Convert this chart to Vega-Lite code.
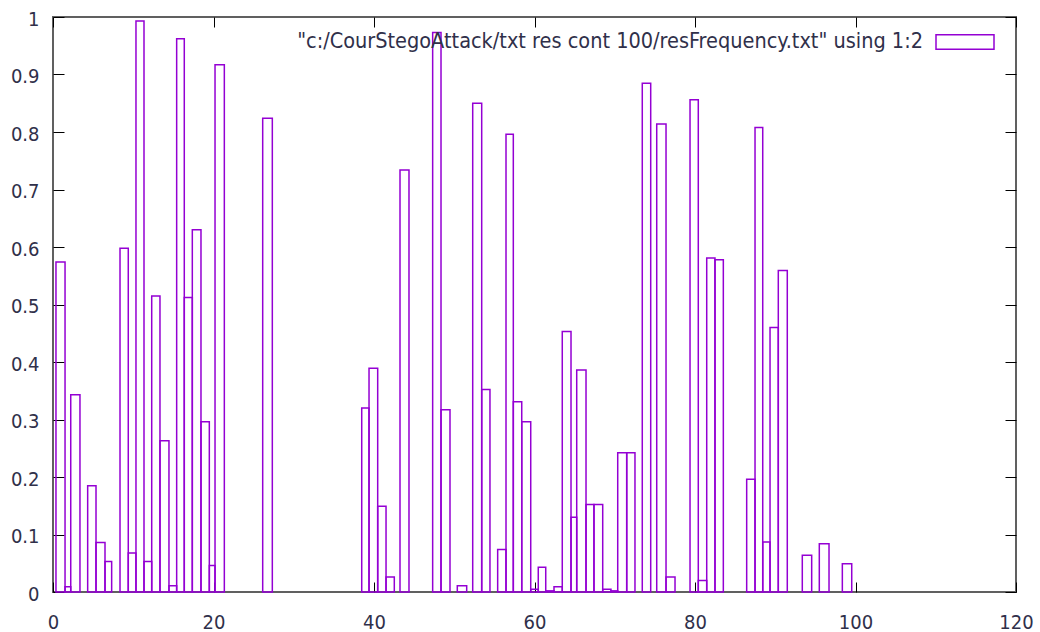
{
  "$schema": "https://vega.github.io/schema/vega-lite/v6.json",
  "width": 963,
  "height": 575,
  "autosize": {"type": "none"},
  "padding": {"left": 53, "top": 17, "right": 24, "bottom": 40},
  "background": "white",
  "config": {
    "view": {"stroke": "#606060", "strokeWidth": 2},
    "font": "DejaVu Sans Condensed, Liberation Sans, sans-serif"
  },
  "data": {
    "values": [
      {"x0": 0.37, "x1": 1.5, "freq": 0.574},
      {"x0": 1.5, "x1": 2.21, "freq": 0.009},
      {"x0": 2.21, "x1": 3.36, "freq": 0.343},
      {"x0": 4.32, "x1": 5.36, "freq": 0.185},
      {"x0": 5.36, "x1": 6.48, "freq": 0.086},
      {"x0": 6.48, "x1": 7.31, "freq": 0.053},
      {"x0": 8.35, "x1": 9.38, "freq": 0.598},
      {"x0": 9.38, "x1": 10.34, "freq": 0.068},
      {"x0": 10.34, "x1": 11.34, "freq": 0.993},
      {"x0": 11.34, "x1": 12.3, "freq": 0.053},
      {"x0": 12.3, "x1": 13.33, "freq": 0.515},
      {"x0": 13.33, "x1": 14.45, "freq": 0.263},
      {"x0": 14.45, "x1": 15.41, "freq": 0.011},
      {"x0": 15.41, "x1": 16.36, "freq": 0.962},
      {"x0": 16.36, "x1": 17.36, "freq": 0.512},
      {"x0": 17.36, "x1": 18.44, "freq": 0.63},
      {"x0": 18.44, "x1": 19.48, "freq": 0.296},
      {"x0": 19.48, "x1": 20.19, "freq": 0.046},
      {"x0": 20.19, "x1": 21.35, "freq": 0.917},
      {"x0": 26.13, "x1": 27.33, "freq": 0.824},
      {"x0": 38.47, "x1": 39.38, "freq": 0.32},
      {"x0": 39.38, "x1": 40.46, "freq": 0.389},
      {"x0": 40.46, "x1": 41.5, "freq": 0.149},
      {"x0": 41.5, "x1": 42.53, "freq": 0.026},
      {"x0": 43.24, "x1": 44.36, "freq": 0.734},
      {"x0": 47.31, "x1": 48.35, "freq": 0.973},
      {"x0": 48.35, "x1": 49.47, "freq": 0.317},
      {"x0": 50.38, "x1": 51.55, "freq": 0.011},
      {"x0": 52.3, "x1": 53.42, "freq": 0.85},
      {"x0": 53.42, "x1": 54.45, "freq": 0.352},
      {"x0": 55.41, "x1": 56.45, "freq": 0.074},
      {"x0": 56.45, "x1": 57.36, "freq": 0.796},
      {"x0": 57.36, "x1": 58.41, "freq": 0.331},
      {"x0": 58.41, "x1": 59.53, "freq": 0.296},
      {"x0": 59.53, "x1": 60.47, "freq": 0.005},
      {"x0": 60.47, "x1": 61.4, "freq": 0.043},
      {"x0": 61.4, "x1": 62.43, "freq": 0.002},
      {"x0": 62.43, "x1": 63.46, "freq": 0.009},
      {"x0": 63.46, "x1": 64.55, "freq": 0.453},
      {"x0": 64.55, "x1": 65.26, "freq": 0.13},
      {"x0": 65.26, "x1": 66.42, "freq": 0.386},
      {"x0": 66.42, "x1": 67.41, "freq": 0.152},
      {"x0": 67.41, "x1": 68.5, "freq": 0.152},
      {"x0": 68.5, "x1": 69.53, "freq": 0.005},
      {"x0": 69.53, "x1": 70.37, "freq": 0.002},
      {"x0": 70.37, "x1": 71.49, "freq": 0.242},
      {"x0": 71.49, "x1": 72.52, "freq": 0.242},
      {"x0": 73.43, "x1": 74.48, "freq": 0.885},
      {"x0": 75.23, "x1": 76.39, "freq": 0.814},
      {"x0": 76.39, "x1": 77.51, "freq": 0.026},
      {"x0": 79.38, "x1": 80.41, "freq": 0.856},
      {"x0": 80.41, "x1": 81.46, "freq": 0.02},
      {"x0": 81.46, "x1": 82.49, "freq": 0.581},
      {"x0": 82.49, "x1": 83.53, "freq": 0.578},
      {"x0": 86.44, "x1": 87.48, "freq": 0.196},
      {"x0": 87.48, "x1": 88.44, "freq": 0.808},
      {"x0": 88.44, "x1": 89.35, "freq": 0.087},
      {"x0": 89.35, "x1": 90.38, "freq": 0.46},
      {"x0": 90.38, "x1": 91.5, "freq": 0.559},
      {"x0": 93.37, "x1": 94.54, "freq": 0.064},
      {"x0": 95.49, "x1": 96.7, "freq": 0.084},
      {"x0": 98.36, "x1": 99.53, "freq": 0.049}
    ]
  },
  "layer": [
    {
      "mark": {"type": "bar", "filled": false, "strokeWidth": 1.5},
      "encoding": {
        "x": {
          "field": "x0", "type": "quantitative",
          "scale": {"domain": [0, 120], "nice": false, "zero": false},
          "axis": {
            "orient": "bottom", "title": null, "values": [0, 20, 40, 60, 80, 100, 120],
            "format": "d", "grid": false, "domain": false,
            "tickSize": -10, "tickColor": "#000000", "tickWidth": 1,
            "labelFontSize": 20, "labelColor": "#30304a", "labelPadding": 30,
            "labelFlush": false, "labelOverlap": false, "labelBound": false
          }
        },
        "x2": {"field": "x1"},
        "y": {
          "field": "freq", "type": "quantitative",
          "scale": {"domain": [0, 1], "nice": false},
          "axis": {
            "orient": "left", "title": null, "values": [0, 0.1, 0.2, 0.3, 0.4, 0.5, 0.6, 0.7, 0.8, 0.9, 1],
            "format": ".1~f", "grid": false, "domain": false,
            "tickSize": -11, "tickColor": "#000000", "tickWidth": 1,
            "labelFontSize": 20, "labelColor": "#30304a", "labelPadding": 25,
            "labelFlush": false, "labelOverlap": false, "labelBound": false, "labelOffset": 2
          }
        },
        "y2": {"datum": 0},
        "color": {
          "datum": "\"c:/CourStegoAttack/txt res cont 100/resFrequency.txt\" using 1:2",
          "type": "nominal",
          "scale": {"range": ["#9400d3"]},
          "legend": {
            "orient": "none", "legendX": 882, "legendY": -5, "title": null,
            "symbolType": "M-1,-0.25H1V0.25H-1Z", "symbolSize": 3364,
            "symbolStrokeWidth": 1.5, "symbolStrokeColor": "#9400d3", "symbolFillColor": "transparent",
            "labelAlign": "right", "labelOffset": -72, "labelFontSize": 21.5,
            "labelLimit": 0, "labelColor": "#30304a", "padding": 0
          }
        }
      }
    },
    {
      "mark": {"type": "bar", "opacity": 0},
      "encoding": {
        "x": {
          "field": "x0", "type": "quantitative",
          "scale": {"domain": [0, 120], "nice": false, "zero": false},
          "axis": {
            "orient": "top", "title": null, "values": [0, 20, 40, 60, 80, 100, 120],
            "labels": false, "grid": false, "domain": false,
            "tickSize": -10, "tickColor": "#000000", "tickWidth": 1
          }
        },
        "x2": {"field": "x1"},
        "y": {
          "field": "freq", "type": "quantitative",
          "scale": {"domain": [0, 1], "nice": false},
          "axis": {
            "orient": "right", "title": null, "values": [0, 0.1, 0.2, 0.3, 0.4, 0.5, 0.6, 0.7, 0.8, 0.9, 1],
            "labels": false, "grid": false, "domain": false,
            "tickSize": -11, "tickColor": "#000000", "tickWidth": 1
          }
        },
        "y2": {"datum": 0}
      }
    }
  ],
  "resolve": {"axis": {"x": "independent", "y": "independent"}}
}
